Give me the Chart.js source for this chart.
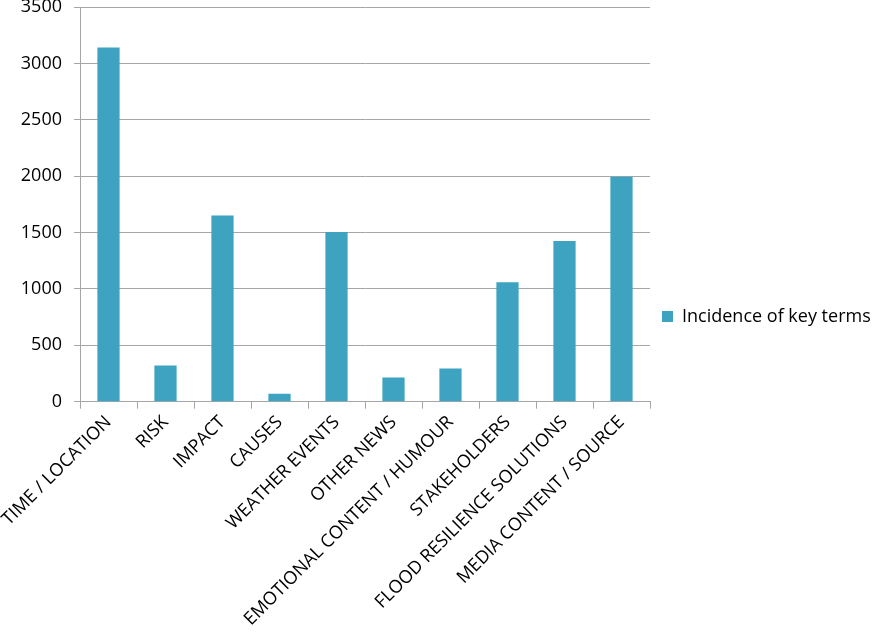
<!DOCTYPE html>
<html>
<head>
<meta charset="utf-8">
<script src="https://cdn.jsdelivr.net/npm/chart.js@4.4.1/dist/chart.umd.min.js"></script>
<style>
  html, body { margin: 0; padding: 0; background: #fff; }
  #wrap { width: 872px; height: 633px; }
</style>
</head>
<body>
<div id="wrap"><canvas id="myChart"></canvas></div>
<script>
// categories and counts
const categories = [
    'TIME / LOCATION',
    'RISK',
    'IMPACT',
    'CAUSES',
    'WEATHER EVENTS',
    'OTHER NEWS',
    'EMOTIONAL CONTENT / HUMOUR',
    'STAKEHOLDERS',
    'FLOOD RESILIENCE SOLUTIONS',
    'MEDIA CONTENT / SOURCE'
];
const incidence = [3140, 320, 1650, 70, 1505, 215, 295, 1060, 1425, 1995];
const seriesName = 'Incidence of key terms';

const axisGray = '#a6a6a6';

// legend measures its text a bit short, give it some extra room
const widenLegend = {
    id: 'widenLegend',
    beforeLayout: function (chart) {
        const lg = chart.legend;
        if (lg && !lg._widened) {
            const fit = lg.fit.bind(lg);
            lg.fit = function () {
                fit();
                this.width += 4;
            };
            lg._widened = true;
        }
    }
};

const data = {
    labels: categories,
    datasets: [{
        label: seriesName,
        backgroundColor: '#3da3c1',
        data: incidence,
        barPercentage: 0.39,
        categoryPercentage: 1
    }]
};

const config = {
    type: 'bar',
    data: data,
    plugins: [widenLegend],
    options: {
        responsive: true,
        maintainAspectRatio: false,
        animation: false,
        layout: {
            padding: { left: 0, top: 0, right: 0, bottom: 0 }
        },
        plugins: {
            legend: {
                display: true,
                position: 'right',
                labels: {
                    boxWidth: 11,
                    boxHeight: 11,
                    padding: 12,
                    color: '#000',
                    font: { family: 'Open Sans', size: 18 }
                }
            },
            tooltip: { enabled: false }
        },
        scales: {
            x: {
                afterFit: function (scale) {
                    // plot area starts at x=80 like the original
                    scale.paddingLeft = 80;
                },
                grid: {
                    offset: true,
                    drawOnChartArea: false,
                    color: axisGray,
                    tickLength: 7
                },
                border: { color: axisGray },
                ticks: {
                    color: '#000',
                    minRotation: 45,
                    maxRotation: 45,
                    autoSkip: false,
                    font: { family: 'Open Sans', size: 18 }
                }
            },
            y: {
                min: 0,
                max: 3500,
                afterFit: function (scale) {
                    // keep the top gridline close to the canvas edge
                    scale.paddingTop = 7;
                },
                ticks: {
                    stepSize: 500,
                    color: '#000',
                    padding: 12,
                    font: { family: 'Open Sans', size: 18 },
                    callback: function (v) { return String(v); }
                },
                grid: {
                    color: axisGray,
                    tickLength: 6
                },
                border: { color: axisGray }
            }
        }
    }
};

new Chart(document.getElementById('myChart'), config);
</script>
</body>
</html>
